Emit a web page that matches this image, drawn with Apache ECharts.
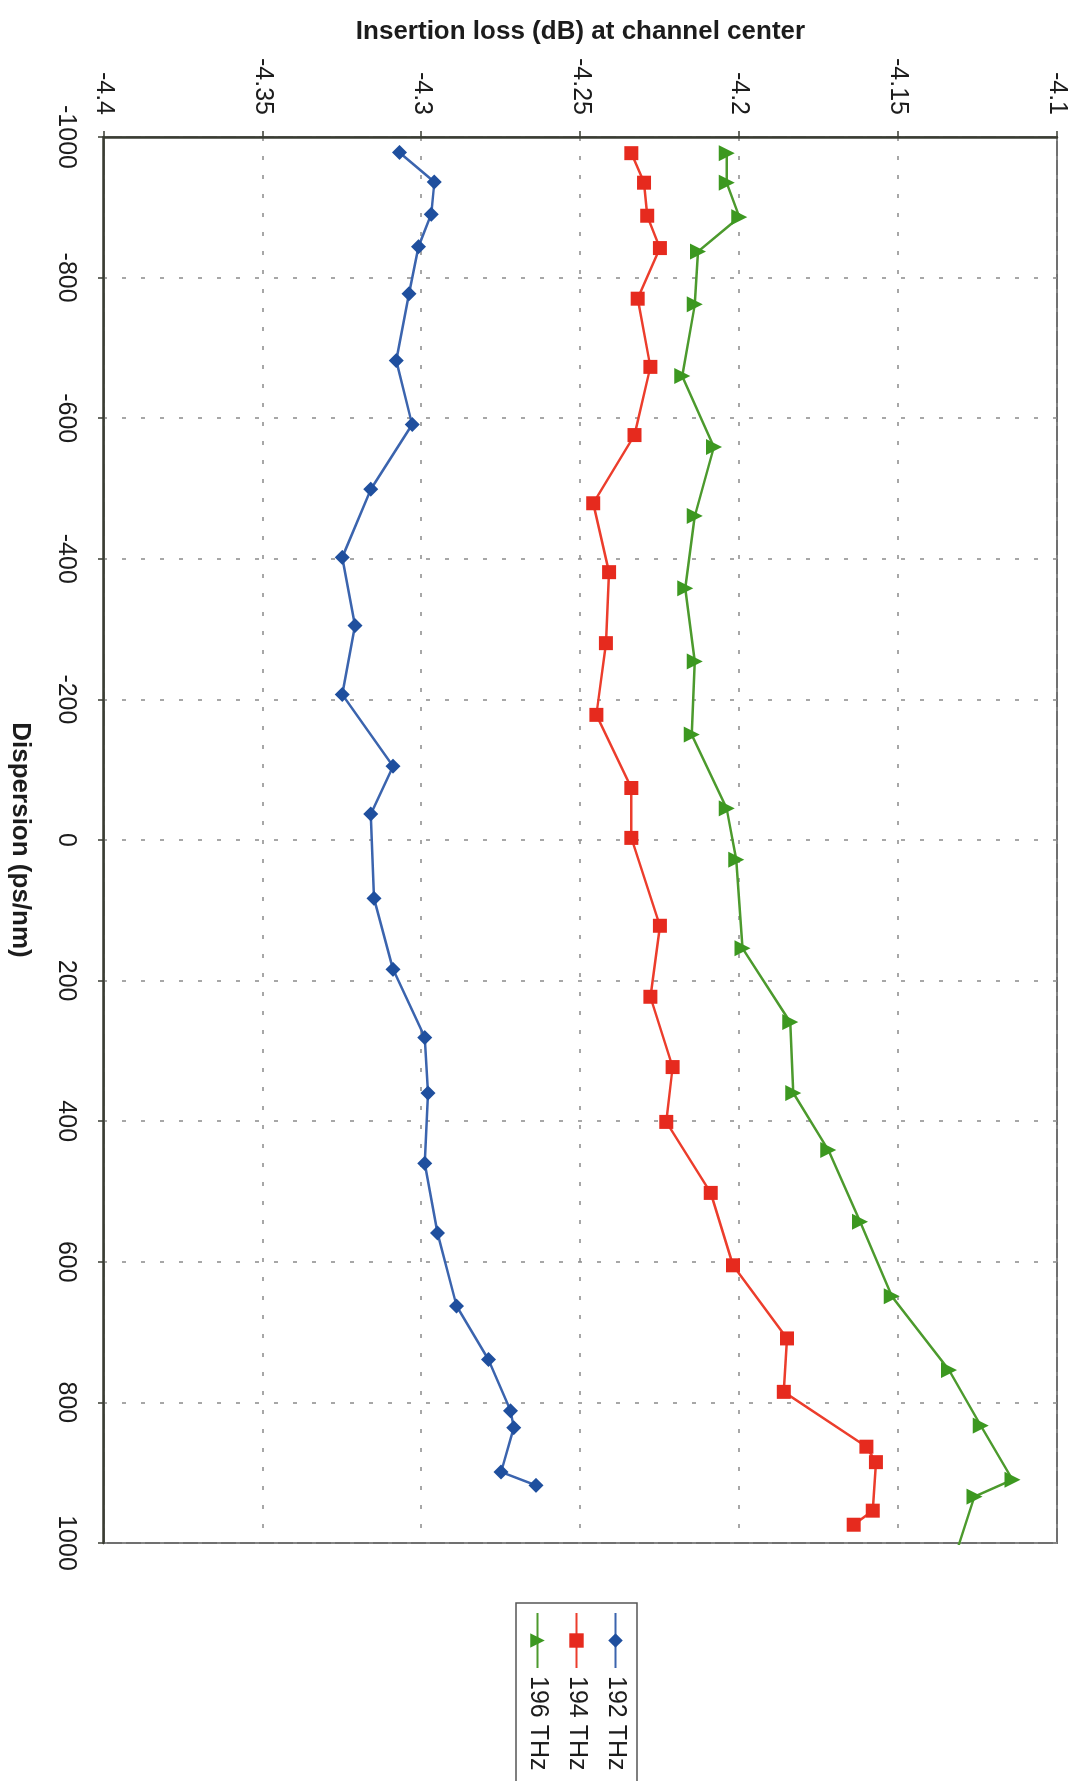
<!DOCTYPE html>
<html>
<head>
<meta charset="utf-8">
<title>Insertion loss vs dispersion</title>
<script src="https://cdn.jsdelivr.net/npm/echarts@6/dist/echarts.min.js"></script>
<style>
  html, body { margin: 0; padding: 0; width: 1080px; height: 1781px; overflow: hidden; background: #ffffff; }
  /* The plot is laid out landscape (dispersion across, loss up) and turned a quarter clockwise onto the portrait page. */
  #chart {
    position: absolute; left: 0; top: 0;
    width: 1781px; height: 1080px;
    transform-origin: 0 0;
    transform: translate(1080px, 0) rotate(90deg);
  }
</style>
</head>
<body>
<div id="chart"></div>
<script>
// Measured insertion loss (dB) at channel center versus applied dispersion (ps/nm)
const seriesNames = ['192 THz', '194 THz', '196 THz'];

const disp192 = [-978, -936, -890, -844, -777, -682, -591, -499, -402, -305, -207, -105, -37, 83, 184, 281, 360, 460, 559, 663, 739, 812, 836, 899, 918];
const loss192 = [-4.307, -4.296, -4.297, -4.301, -4.304, -4.308, -4.303, -4.316, -4.325, -4.321, -4.325, -4.309, -4.316, -4.315, -4.309, -4.299, -4.298, -4.299, -4.295, -4.289, -4.279, -4.272, -4.271, -4.275, -4.264];

const disp194 = [-977, -935, -888, -842, -770, -673, -576, -479, -381, -280, -178, -74, -3, 122, 223, 323, 401, 502, 605, 709, 785, 863, 885, 954, 974];
const loss194 = [-4.234, -4.230, -4.229, -4.225, -4.232, -4.228, -4.233, -4.246, -4.241, -4.242, -4.245, -4.234, -4.234, -4.225, -4.228, -4.221, -4.223, -4.209, -4.202, -4.185, -4.186, -4.160, -4.157, -4.158, -4.164];

const disp196 = [-977, -935, -886, -837, -762, -660, -559, -461, -358, -254, -150, -45, 28, 154, 259, 360, 441, 543, 649, 754, 833, 910, 934, 1004];
const loss196 = [-4.204, -4.204, -4.200, -4.213, -4.214, -4.218, -4.208, -4.214, -4.217, -4.214, -4.215, -4.204, -4.201, -4.199, -4.184, -4.183, -4.172, -4.162, -4.152, -4.134, -4.124, -4.114, -4.126, -4.131];

// Axis ranges and tick spacing
const dispRange = { min: -1000, max: 1000, step: 200 };
const lossRange = { min: -4.4, max: -4.1, step: 0.05 };

const FONT = "'Liberation Sans', Arial, Helvetica, sans-serif";
const INK = '#1c1c1c';
const AXIS_DARK = '#3a3d33';

function pairs(xs, ys) { return xs.map((x, i) => [x, ys[i]]); }

const chart = echarts.init(document.getElementById('chart'), null, { renderer: 'canvas', width: 1781, height: 1080 });

const option = {
  animation: false,
  backgroundColor: '#ffffff',
  grid: {
    left: 137, top: 23, width: 1406, height: 953,
    show: true, borderColor: '#707070', borderWidth: 2, backgroundColor: 'transparent'
  },
  legend: {
    orient: 'vertical',
    left: 1603, top: 443,
    padding: [9, 140, 9, 9],
    itemWidth: 55, itemHeight: 18, itemGap: 14,
    borderColor: '#555555', borderWidth: 1.5,
    textStyle: { fontFamily: FONT, fontSize: 25, color: INK, padding: [0, 0, 0, 3] },
    data: seriesNames
  },
  xAxis: {
    type: 'value',
    min: dispRange.min, max: dispRange.max, interval: dispRange.step,
    name: 'Dispersion (ps/nm)',
    nameLocation: 'middle', nameGap: 71,
    nameTextStyle: { fontFamily: FONT, fontWeight: 'bold', fontSize: 26, color: INK },
    axisLine: { onZero: false, lineStyle: { color: AXIS_DARK, width: 2.5 } },
    axisTick: { show: true, inside: false, length: 6, lineStyle: { color: AXIS_DARK, width: 1.5 } },
    axisLabel: {
      margin: 26, fontFamily: FONT, fontSize: 25, color: INK,
      formatter: v => String(Math.round(v))
    },
    splitLine: { show: true, lineStyle: { color: '#8a8a8a', width: 1.5, type: [4, 15] } }
  },
  yAxis: {
    type: 'value',
    min: lossRange.min, max: lossRange.max, interval: lossRange.step,
    name: 'Insertion loss (dB) at channel center',
    nameLocation: 'middle', nameGap: 92,
    nameTextStyle: { fontFamily: FONT, fontWeight: 'bold', fontSize: 26, color: INK },
    axisLine: { onZero: false, lineStyle: { color: AXIS_DARK, width: 2.5 } },
    axisTick: { show: true, inside: false, length: 6, lineStyle: { color: AXIS_DARK, width: 1.5 } },
    axisLabel: {
      margin: 22, fontFamily: FONT, fontSize: 25, color: INK,
      formatter: v => String(parseFloat(v.toFixed(2)))
    },
    splitLine: { show: true, lineStyle: { color: '#8a8a8a', width: 1.5, type: [4, 15] } }
  },
  series: [
    {
      name: seriesNames[0], type: 'line', data: pairs(disp192, loss192),
      symbol: 'diamond', symbolSize: 15, clip: true,
      itemStyle: { color: '#1f4f9e' },
      lineStyle: { color: '#3b64ae', width: 2.5 }
    },
    {
      name: seriesNames[1], type: 'line', data: pairs(disp194, loss194),
      symbol: 'rect', symbolSize: 14, clip: true,
      itemStyle: { color: '#e62a1e' },
      lineStyle: { color: '#ec3d2c', width: 2.5 }
    },
    {
      name: seriesNames[2], type: 'line', data: pairs(disp196, loss196),
      symbol: 'triangle', symbolSize: 16, clip: true,
      itemStyle: { color: '#3c9820' },
      lineStyle: { color: '#4c9a2d', width: 2.5 }
    }
  ]
};

chart.setOption(option);
</script>
</body>
</html>
